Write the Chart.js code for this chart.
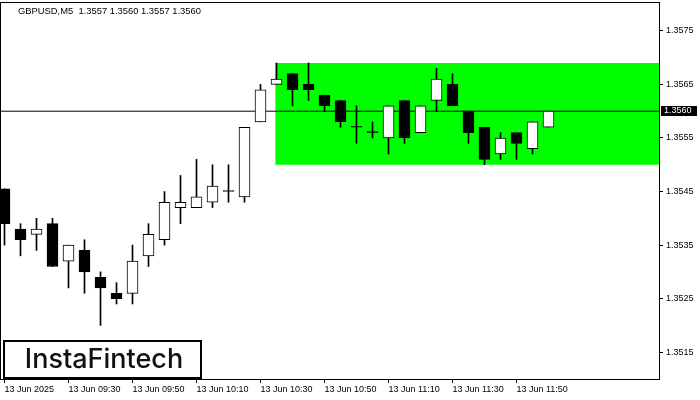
<!DOCTYPE html>
<html>
<head>
<meta charset="utf-8">
<script src="https://cdn.jsdelivr.net/npm/chart.js@4.4.1/dist/chart.umd.min.js"></script>
<style>
  html, body { margin: 0; padding: 0; background: #fff; }
</style>
</head>
<body>
<canvas id="myChart" width="700" height="400"></canvas>
<script>
// Chart data
let symbol = 'GBPUSD,M5';
let opens  = [1.35455, 1.35380, 1.35370, 1.35390, 1.35320, 1.35340, 1.35290, 1.35260, 1.35260, 1.35330,
              1.35360, 1.35420, 1.35420, 1.35430, 1.35450, 1.35440, 1.35580, 1.35650, 1.35670, 1.35650,
              1.35630, 1.35620, 1.35570, 1.35560, 1.35550, 1.35620, 1.35560, 1.35620, 1.35650, 1.35600,
              1.35570, 1.35520, 1.35560, 1.35530, 1.35570];
let highs  = [1.35455, 1.35390, 1.35400, 1.35400, 1.35350, 1.35360, 1.35300, 1.35280, 1.35350, 1.35390,
              1.35450, 1.35480, 1.35510, 1.35500, 1.35500, 1.35570, 1.35650, 1.35690, 1.35670, 1.35690,
              1.35630, 1.35620, 1.35610, 1.35580, 1.35610, 1.35620, 1.35610, 1.35680, 1.35670, 1.35600,
              1.35570, 1.35560, 1.35560, 1.35580, 1.35600];
let lows   = [1.35350, 1.35330, 1.35340, 1.35310, 1.35270, 1.35260, 1.35200, 1.35240, 1.35240, 1.35310,
              1.35350, 1.35390, 1.35420, 1.35420, 1.35430, 1.35430, 1.35580, 1.35650, 1.35610, 1.35620,
              1.35600, 1.35570, 1.35540, 1.35550, 1.35520, 1.35540, 1.35560, 1.35600, 1.35610, 1.35540,
              1.35500, 1.35510, 1.35510, 1.35520, 1.35570];
let closes = [1.35390, 1.35360, 1.35380, 1.35310, 1.35350, 1.35300, 1.35270, 1.35250, 1.35320, 1.35370,
              1.35430, 1.35430, 1.35440, 1.35460, 1.35450, 1.35570, 1.35640, 1.35660, 1.35640, 1.35640,
              1.35610, 1.35580, 1.35570, 1.35560, 1.35610, 1.35550, 1.35610, 1.35660, 1.35610, 1.35560,
              1.35510, 1.35550, 1.35540, 1.35580, 1.35600];

let xTickIdx    = [0, 4, 8, 12, 16, 20, 24, 28, 32];
let xTickLabels = ['13 Jun 2025', '13 Jun 09:30', '13 Jun 09:50', '13 Jun 10:10', '13 Jun 10:30',
                   '13 Jun 10:50', '13 Jun 11:10', '13 Jun 11:30', '13 Jun 11:50'];
let yTicks = [1.3515, 1.3525, 1.3535, 1.3545, 1.3555, 1.3565, 1.3575];

// flat range box and price level
let boxStart = 16.92;
let boxTop = 1.3569;
let boxBottom = 1.3550;
let levelPrice = 1.3560;

let xMin = -0.21875;
let xMax = 40.90625;

// build datasets
let wickData = [];
let bodyData = [];
for (let i = 0; i < opens.length; i++) {
  wickData.push({ x: i, y: [lows[i], highs[i]] });
  bodyData.push({ x: i, y: [opens[i], closes[i]] });
}

function bodyColor(ctx) {
  let i = ctx.dataIndex;
  return closes[i] > opens[i] ? '#ffffff' : '#000000';
}

let overlay = {
  id: 'overlay',
  afterDraw(chart) {
    let ctx = chart.ctx;
    let ca = chart.chartArea;
    let yScale = chart.scales.y;
    ctx.save();
    // frame
    ctx.strokeStyle = '#000';
    ctx.lineWidth = 1;
    ctx.strokeRect(ca.left - 0.5, ca.top - 0.5, ca.right - ca.left + 1, ca.bottom - ca.top + 1);

    // title line
    let n = opens.length - 1;
    ctx.fillStyle = '#000';
    ctx.font = '9.4px "Liberation Sans"';
    ctx.textBaseline = 'middle';
    ctx.textAlign = 'left';
    ctx.fillText(symbol + '  ' + opens[n].toFixed(4) + ' ' + highs[n].toFixed(4) + ' ' +
                 lows[n].toFixed(4) + ' ' + closes[n].toFixed(4), 18, 11);

    // current price tag
    let py = Math.round(yScale.getPixelForValue(closes[n]));
    ctx.font = '9px "Liberation Sans"';
    ctx.fillStyle = '#000';
    ctx.fillRect(ca.right + 2, py - 5, 36, 10);
    ctx.fillStyle = '#fff';
    ctx.fillText(closes[n].toFixed(4), ca.right + 5, py);

    // logo
    ctx.fillStyle = '#fff';
    ctx.fillRect(4, 341, 197, 37);
    ctx.strokeStyle = '#000';
    ctx.lineWidth = 2;
    ctx.strokeRect(4, 341, 197, 37);
    ctx.fillStyle = '#111';
    ctx.font = '500 27px Inter';
    ctx.textAlign = 'center';
    ctx.fillText('InstaFintech', 104, 360);
    ctx.restore();
  }
};

let chartCtx = document.getElementById('myChart').getContext('2d');
let myChart = new Chart(chartCtx, {
  type: 'bar',
  data: {
    datasets: [
      {
        label: 'body',
        data: bodyData,
        backgroundColor: bodyColor,
        borderColor: '#000',
        borderWidth: 1,
        borderSkipped: false,
        barThickness: 11,
        minBarLength: 1,
        grouped: false,
        order: 0
      },
      {
        label: 'wick',
        data: wickData,
        backgroundColor: '#000',
        borderWidth: 0,
        barThickness: 1,
        grouped: false,
        order: 1
      },
      {
        type: 'line',
        label: 'level',
        data: [{ x: xMin, y: levelPrice }, { x: xMax, y: levelPrice }],
        borderColor: '#000',
        borderWidth: 1,
        pointRadius: 0,
        fill: false,
        order: 2
      },
      {
        type: 'line',
        label: 'range',
        data: [{ x: boxStart, y: boxTop }, { x: xMax, y: boxTop }],
        borderWidth: 0,
        borderColor: 'rgba(0,0,0,0)',
        backgroundColor: '#00ff00',
        pointRadius: 0,
        fill: { value: boxBottom },
        order: 3
      }
    ]
  },
  options: {
    responsive: false,
    animation: false,
    devicePixelRatio: 1,
    events: [],
    layout: { padding: { left: 1, top: 3, right: 0, bottom: 0 } },
    plugins: {
      legend: { display: false },
      tooltip: { enabled: false }
    },
    scales: {
      x: {
        type: 'linear',
        min: xMin,
        max: xMax,
        offset: false,
        afterFit: function (scale) {
          scale.height = 21;
          scale.paddingLeft = 0;
          scale.paddingRight = 0;
        },
        afterBuildTicks: function (scale) {
          scale.ticks = xTickIdx.map(v => ({ value: v }));
        },
        grid: { offset: false, drawOnChartArea: false, drawTicks: true, tickLength: 4, color: '#000' },
        border: { display: false },
        ticks: {
          autoSkip: false,
          maxRotation: 0,
          align: 'start',
          padding: 1,
          color: '#000',
          font: { family: 'Liberation Sans', size: 9 },
          callback: function (value, index) { return xTickLabels[index]; }
        }
      },
      y: {
        position: 'right',
        min: 1.3510,
        max: 1.35802,
        afterFit: function (scale) {
          scale.width = 41;
          scale.paddingTop = 0;
          scale.paddingBottom = 0;
        },
        afterBuildTicks: function (scale) {
          scale.ticks = yTicks.map(v => ({ value: v }));
        },
        grid: { drawOnChartArea: false, drawTicks: true, tickLength: 4, color: '#000' },
        border: { display: false },
        ticks: {
          padding: 3,
          color: '#000',
          font: { family: 'Liberation Sans', size: 9 },
          callback: function (value) { return value.toFixed(4); }
        }
      }
    }
  },
  plugins: [overlay]
});
</script>
</body>
</html>
